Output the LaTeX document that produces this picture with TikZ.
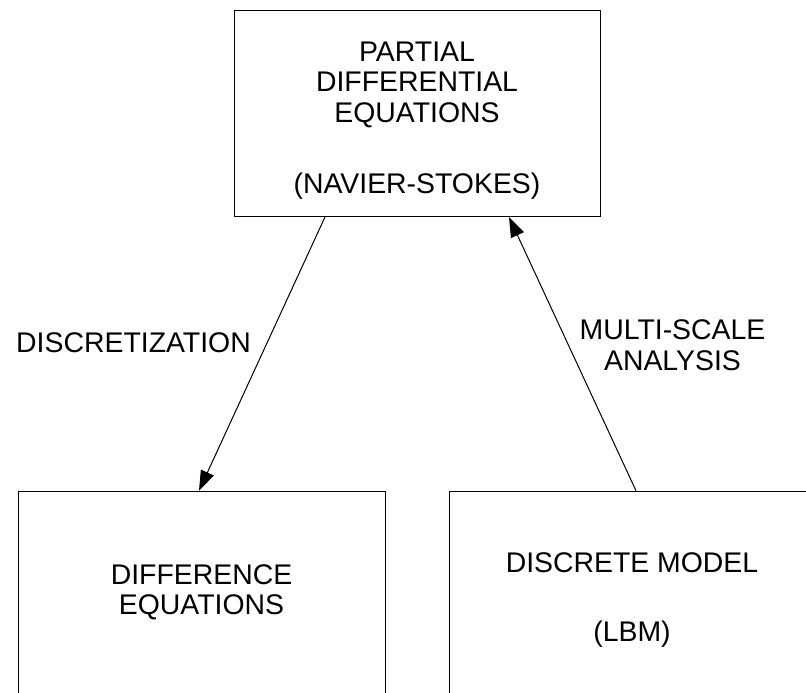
\documentclass[tikz,border=0pt]{standalone}
\usepackage{fontspec}
\setmainfont{Liberation Sans}
\usetikzlibrary{arrows.meta}
\begin{document}
\begin{tikzpicture}[x=1pt,y=-1pt,
  box/.style={draw=black,line width=1pt,rectangle,inner sep=0pt,anchor=north west},
  txt/.style={align=center,inner sep=0pt,font=\fontsize{28.4}{30.5}\selectfont},
  conn/.style={line width=1pt,-{Triangle[length=20pt,width=14pt]}}]
\clip (0,0) rectangle (806,693);
\fill[white] (0,0) rectangle (806,693);
% boxes
\node[box,minimum width=366pt,minimum height=206pt] (pde) at (234,10) {};
\node[box,minimum width=367pt,minimum height=210pt] (diff) at (18,490.7) {};
\node[box,minimum width=366pt,minimum height=214pt] (lbm) at (449,490.7) {};
% box texts
\node[txt] (pdet) at (417,120.5) {PARTIAL\\DIFFERENTIAL\\EQUATIONS\\[40.5pt](NAVIER-STOKES)};
\node[txt] (difft) at (201.5,592.5) {DIFFERENCE\\EQUATIONS};
\node[txt] (lbmt) at (632,600.5) {DISCRETE MODEL\\[38.5pt](LBM)};
% connectors
\draw[conn] ([xshift=91pt]pde.south west) -- ([xshift=181pt]diff.north west);
\draw[conn] ([xshift=187pt]lbm.north west) -- ([xshift=275pt]pde.south west);
% labels
\node[txt] (disc) at (133.5,343) {DISCRETIZATION};
\node[txt] (msa) at (672.5,345) {MULTI-SCALE\\ANALYSIS};
\end{tikzpicture}
\end{document}
